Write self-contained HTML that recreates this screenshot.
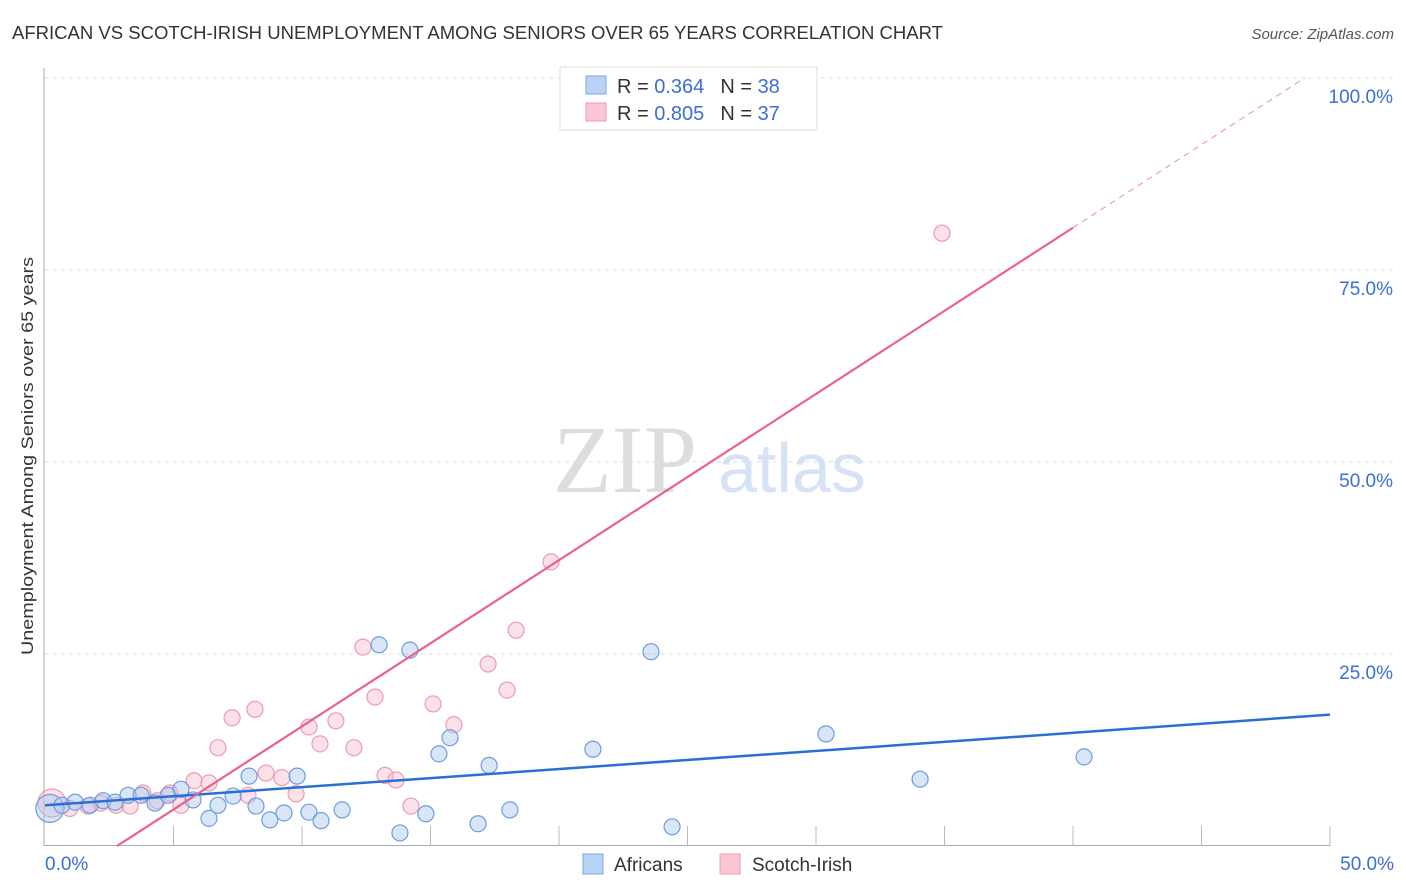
<!DOCTYPE html>
<html><head><meta charset="utf-8"><style>
body{margin:0;background:#fff;font-family:"Liberation Sans",sans-serif;}
svg{display:block}
</style></head><body>
<svg id="chart" width="1406" height="892" xmlns="http://www.w3.org/2000/svg">
<text x="12" y="39" font-size="18" fill="#333" textLength="931" lengthAdjust="spacingAndGlyphs">AFRICAN VS SCOTCH-IRISH UNEMPLOYMENT AMONG SENIORS OVER 65 YEARS CORRELATION CHART</text>
<text x="1394" y="39" font-size="15" fill="#555" text-anchor="end" font-style="italic">Source: ZipAtlas.com</text>
<text x="553" y="492" font-size="96" fill="#ddd" font-family="Liberation Serif,serif">ZIP</text>
<text x="718" y="492" font-size="70" fill="#d5e3f5">atlas</text>
<text transform="translate(33,456) rotate(-90)" font-size="17" fill="#333" text-anchor="middle" textLength="398" lengthAdjust="spacingAndGlyphs">Unemployment Among Seniors over 65 years</text>
<g id="grid"></g><g id="axes"></g><g id="marks"></g>
<g>
<rect x="560" y="67" width="257" height="63" fill="#fff" stroke="#ddd"/>
<rect x="586" y="76" width="20" height="18" fill="#b9d3f5" stroke="#7aa7e6"/>
<rect x="586" y="103" width="20" height="18" fill="#fbc7d5" stroke="#ee9ab2"/>
<text x="617" y="93" font-size="20" fill="#333">R = <tspan fill="#3a6fd8">0.364</tspan><tspan dx="16">N = </tspan><tspan fill="#3a6fd8">38</tspan></text>
<text x="617" y="120" font-size="20" fill="#333">R = <tspan fill="#3a6fd8">0.805</tspan><tspan dx="16">N = </tspan><tspan fill="#3a6fd8">37</tspan></text>
</g>
<g>
<rect x="583" y="854" width="20" height="20" fill="#b9d3f5" stroke="#7aa7e6"/>
<text x="614" y="871" font-size="19" fill="#333">Africans</text>
<rect x="720" y="854" width="20" height="20" fill="#fbc7d5" stroke="#ee9ab2"/>
<text x="752" y="871" font-size="19" fill="#333">Scotch-Irish</text>
</g>
</svg>
<script>
const yTicks=[25,50,75,100];
const yTickLabels=["25.0%","50.0%","75.0%","100.0%"];
const xTickLabels=["0.0%","50.0%"];
const africansX=[0.19,0.66,1.17,1.75,2.26,2.72,3.23,3.74,4.28,4.79,5.29,5.76,6.38,6.73,7.32,7.94,8.21,8.75,9.3,9.81,10.27,10.74,11.56,13.0,13.81,14.2,14.82,15.33,15.76,16.85,17.28,18.09,21.32,23.58,24.4,30.39,34.05,40.43];
const africansY=[4.9,5.3,5.7,5.3,5.9,5.7,6.6,6.6,5.6,6.6,7.4,6.0,3.6,5.3,6.5,9.1,5.2,3.4,4.3,9.1,4.4,3.3,4.7,26.2,1.7,25.5,4.2,12.0,14.1,2.9,10.5,4.7,12.6,25.3,2.5,14.6,8.7,11.6];
const scotchX=[0.27,0.97,1.67,2.18,2.76,3.31,3.81,4.36,4.86,5.29,5.8,6.38,6.73,7.28,7.9,8.17,8.6,9.22,9.77,10.27,10.7,11.32,12.02,12.37,12.84,13.23,13.66,14.24,15.1,15.91,17.24,17.98,18.33,19.69,34.9];
const scotchY=[5.6,4.9,5.2,5.6,5.3,5.2,6.9,5.9,6.9,5.3,8.5,8.2,12.8,16.7,6.6,17.8,9.5,8.9,6.8,15.5,13.3,16.3,12.8,25.9,19.4,9.2,8.6,5.2,18.5,15.8,23.7,20.3,28.1,37.0,79.8];
const africansLine=[5.3,17.1];
const scotchLine=[-6.06,2.164];
const NS="http://www.w3.org/2000/svg";
const X=v=>45+v*25.7, Y=v=>846-v*7.68;
function mk(t,a,p){const e=document.createElementNS(NS,t);for(const k in a)e.setAttribute(k,a[k]);p.appendChild(e);return e;}
const grid=document.getElementById('grid'),axes=document.getElementById('axes'),marks=document.getElementById('marks');
yTicks.forEach((v,i)=>{
 const l=mk('line',{x1:45,x2:1394,y1:Y(v),y2:Y(v),stroke:'#ddd','stroke-dasharray':'4,4'},grid);
 
 
 const t=mk('text',{x:1393,y:Y(v)+25,'font-size':19,fill:'#3a6fd8','text-anchor':'end'},grid);
 t.textContent=yTickLabels[i];
 
 
});
mk('line',{x1:44,x2:44,y1:68,y2:846,stroke:'#aaa'},axes);
mk('line',{x1:44,x2:1330,y1:845.5,y2:845.5,stroke:'#aaa'},axes);
for(let i=1;i<=10;i++){mk('line',{x1:X(i*5),x2:X(i*5),y1:826,y2:846,stroke:'#bbb'},axes);}
[[0,'start',45],[50,'end',1394]].forEach((a,i)=>{
 const t=mk('text',{x:a[2],y:870,'font-size':19,fill:'#3a6fd8','text-anchor':a[1]},axes);
 t.textContent=xTickLabels[i];
 
 
});
scotchX.forEach((x,i)=>{
 const c=mk('circle',{cx:X(x),cy:Y(scotchY[i]),r:i==0?14:8,fill:'rgba(248,180,200,0.4)',stroke:'#ee9ab2','stroke-width':1.2},marks);
 
 
});
africansX.forEach((x,i)=>{
 const c=mk('circle',{cx:X(x),cy:Y(africansY[i]),r:i==0?14:8,fill:'rgba(170,200,240,0.45)',stroke:'#6a9ee0','stroke-width':1.2},marks);
 
 
});
const bl=mk('line',{x1:X(0),y1:Y(africansLine[0]),x2:X(50),y2:Y(africansLine[1]),stroke:'#2a6fd6','stroke-width':2.5},marks);


const sx0=-scotchLine[0]/scotchLine[1], sx1=40, sx2=(100-scotchLine[0])/scotchLine[1];
const pl=mk('line',{x1:X(sx0),y1:Y(0),x2:X(sx1),y2:Y(scotchLine[0]+scotchLine[1]*sx1),stroke:'#e8628c','stroke-width':2.2},marks);


const pd=mk('line',{x1:X(sx1),y1:Y(scotchLine[0]+scotchLine[1]*sx1),x2:X(sx2),y2:Y(100),stroke:'#eaa0b8','stroke-width':1.2,'stroke-dasharray':'6,5'},marks);


</script>
</body></html>
